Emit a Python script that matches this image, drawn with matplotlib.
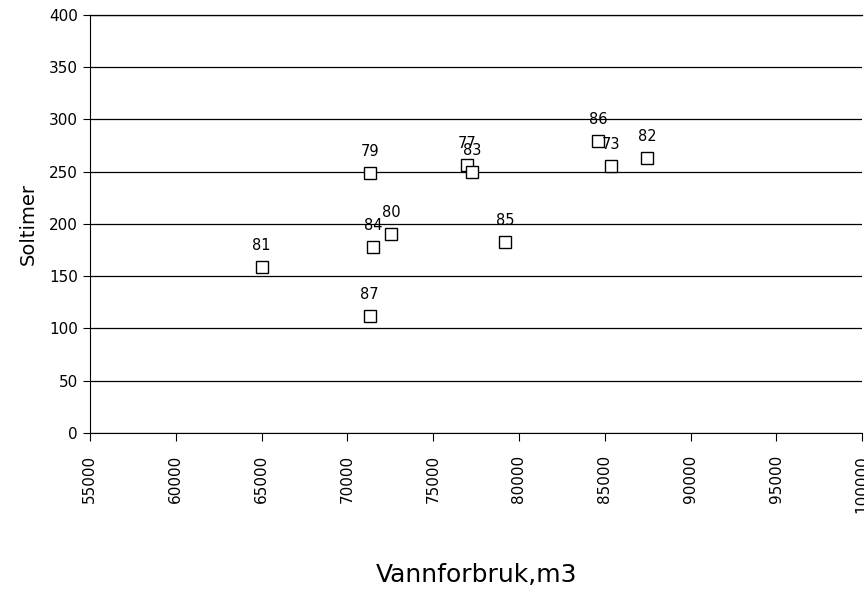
import matplotlib.pyplot as plt

# Year labels, water use (m3) and sun hours
years = ['81', '79', '84', '80', '87', '77', '83', '85', '86', '73', '82']
vann = [65000, 71300, 71500, 72550, 71300, 77000, 77250, 79200, 84600, 85350, 87450]
soltimer = [159, 249, 178, 190, 112, 256, 250, 183, 279, 255, 263]

fig = plt.figure(figsize=(8.64, 5.92), dpi=100)
ax = fig.add_axes([0.104, 0.269, 0.894, 0.706])

ax.plot(vann, soltimer, linestyle='none', marker='s', markersize=8.5,
        markerfacecolor='white', markeredgecolor='black', markeredgewidth=1.0, zorder=3)

for lab, x, y in zip(years, vann, soltimer):
    ax.annotate(lab, (x, y), xytext=(0, 10), textcoords='offset points',
                ha='center', va='bottom', fontsize=10.5)

ax.set_xlim(55000, 100000)
ax.set_ylim(0, 400)
ax.set_xticks(range(55000, 100001, 5000))
ax.set_yticks(range(0, 401, 50))
ax.tick_params(axis='x', rotation=90, labelsize=11, direction='out', length=6, pad=10)
ax.tick_params(axis='y', labelsize=11, direction='out', length=5)
ax.yaxis.grid(True, color='black', linewidth=0.9)
ax.set_axisbelow(True)
ax.spines['right'].set_visible(False)
ax.spines['top'].set_visible(False)
ax.axhline(400, color='black', linewidth=0.9, clip_on=False)

ax.set_ylabel('Soltimer', fontsize=14, labelpad=8)
ax.set_xlabel('Vannforbruk,m3', fontsize=18, labelpad=36)

fig.savefig('out.png', dpi=100)
